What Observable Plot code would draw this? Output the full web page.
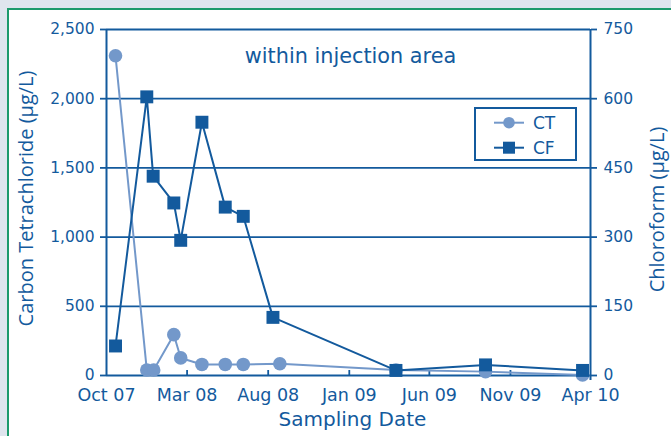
<!DOCTYPE html>
<html>
<head>
<meta charset="utf-8">
<script src="https://cdn.jsdelivr.net/npm/d3@7"></script>
<script src="https://cdn.jsdelivr.net/npm/@observablehq/plot@0.6"></script>
<style>
html, body { margin: 0; padding: 0; width: 671px; height: 436px; overflow: hidden; background: #dfe5ee; }
#panel { position: absolute; left: 7px; top: 8px; width: 720px; height: 480px; border: 2px solid #1d9a6c; background: #ffffff; box-sizing: border-box; }
#chart { position: absolute; left: 0; top: 0; }
#legend { position: absolute; left: 474px; top: 107px; }
</style>
</head>
<body>
<div id="panel"></div>
<div id="chart"></div>
<svg id="legend" width="103" height="54"></svg>
<script>
// ---- data ----
const ctDates  = ["2007-10-18","2007-12-16","2007-12-29","2008-02-05","2008-02-18","2008-03-29","2008-05-12","2008-06-15","2008-08-23","2009-03-30","2009-09-15","2010-03-17"];
const ctValues = [2310, 40, 40, 295, 127, 80, 80, 80, 85, 40, 28, 4];
const cfDates  = ["2007-10-18","2007-12-16","2007-12-28","2008-02-05","2008-02-18","2008-03-29","2008-05-12","2008-06-15","2008-08-10","2009-03-30","2009-09-15","2010-03-17"];
const cfValues = [64, 604, 432, 374, 293, 549, 365, 345, 126, 11, 23, 11];
const xTickDates = ["2007-10-01","2008-03-01","2008-08-01","2009-01-01","2009-06-01","2009-11-01","2010-04-01"];
const yLeftTicks = [0, 500, 1000, 1500, 2000, 2500];
const yRightTicks = [0, 150, 300, 450, 600, 750];
const xDomain = ["2007-10-01", "2010-04-01"];
const labels = {
  title: "within injection area",
  x: "Sampling Date",
  yLeft: "Carbon Tetrachloride (µg/L)",
  yRight: "Chloroform (µg/L)",
  ct: "CT",
  cf: "CF"
};

const dark = "#135a9d";
const light = "#7398ca";
const k = 2500 / 750;
const parse = d3.utcParse("%Y-%m-%d");

const ct = ctDates.map((d, i) => ({date: parse(d), v: ctValues[i]}));
const cf = cfDates.map((d, i) => ({date: parse(d), v: cfValues[i] * k}));
const xTicks = xTickDates.map(parse);
const x0 = parse(xDomain[0]), x1 = parse(xDomain[1]);

const chart = Plot.plot({
  width: 671,
  height: 436,
  marginLeft: 106,
  marginRight: 81,
  marginTop: 29,
  marginBottom: 61,
  style: {fontFamily: "DejaVu Sans", background: "transparent", color: dark},
  x: {type: "utc", domain: [x0, x1], axis: null},
  y: {domain: [0, 2500], axis: null},
  marks: [
    Plot.ruleY(yLeftTicks.slice(1), {stroke: dark, strokeWidth: 1.8}),
    Plot.ruleY([0], {stroke: dark, strokeWidth: 2}),
    Plot.ruleX([x0], {stroke: dark, strokeWidth: 2}),
    Plot.ruleX([x1], {y1: 2500, y2: 0, insetBottom: -5, stroke: dark, strokeWidth: 2}),
    Plot.ruleX(xTicks.slice(1, -1), {y1: 0, y2: 0, insetBottom: 5, stroke: dark, strokeWidth: 1.8}),
    Plot.axisY(yLeftTicks, {anchor: "left", tickSize: 6, tickPadding: 6, tickFormat: d3.format(","), fontSize: 15.5, color: dark, strokeWidth: 1.8, label: null}),
    Plot.axisY(yRightTicks.map(v => v * k), {anchor: "right", tickSize: 6, tickPadding: 7, tickFormat: d => String(Math.round(d / k)), fontSize: 15.5, color: dark, strokeWidth: 1.8, label: null}),
    Plot.axisX(xTicks, {anchor: "bottom", tickSize: 0, tickPadding: 13, tickFormat: d3.utcFormat("%b %y"), fontSize: 17.5, color: dark, label: null}),
    Plot.line(ct, {x: "date", y: "v", stroke: light, strokeWidth: 2}),
    Plot.dot(ct, {x: "date", y: "v", r: 6.8, fill: light}),
    Plot.line(cf, {x: "date", y: "v", stroke: dark, strokeWidth: 2}),
    Plot.dot(cf, {x: "date", y: "v", symbol: "square", r: 7.3, fill: dark}),
    Plot.text([labels.title], {frameAnchor: "top", dx: 2, dy: 33, lineAnchor: "bottom", textAnchor: "middle", fontSize: 20.8, fill: dark}),
    Plot.text([labels.x], {frameAnchor: "bottom", dx: 4, dy: 44, lineAnchor: "middle", textAnchor: "middle", fontSize: 20, fill: dark}),
    Plot.text([labels.yLeft], {frameAnchor: "left", dx: -80, dy: -4, rotate: -90, lineAnchor: "middle", textAnchor: "middle", fontSize: 20, fontFamily: "Open Sans", fill: dark}),
    Plot.text([labels.yRight], {frameAnchor: "right", dx: 67, dy: 7, rotate: -90, lineAnchor: "middle", textAnchor: "middle", fontSize: 20, fontFamily: "Open Sans", fill: dark})
  ]
});
document.getElementById("chart").appendChild(chart);

// ---- legend ----
const lg = d3.select("#legend");
lg.append("rect").attr("x", 1).attr("y", 1).attr("width", 101).attr("height", 52)
  .attr("fill", "#fff").attr("stroke", dark).attr("stroke-width", 2);
lg.append("line").attr("x1", 20).attr("x2", 50).attr("y1", 15.7).attr("y2", 15.7).attr("stroke", light).attr("stroke-width", 2);
lg.append("circle").attr("cx", 35).attr("cy", 15.7).attr("r", 5.8).attr("fill", light);
lg.append("text").attr("x", 59).attr("y", 21.5).attr("font-family", "DejaVu Sans").attr("font-size", 17).attr("fill", dark).text(labels.ct);
lg.append("line").attr("x1", 20).attr("x2", 50).attr("y1", 40.7).attr("y2", 40.7).attr("stroke", dark).attr("stroke-width", 2);
lg.append("rect").attr("x", 29).attr("y", 34.7).attr("width", 12).attr("height", 12).attr("fill", dark);
lg.append("text").attr("x", 59).attr("y", 46.5).attr("font-family", "DejaVu Sans").attr("font-size", 17).attr("fill", dark).text(labels.cf);
</script>
</body>
</html>
